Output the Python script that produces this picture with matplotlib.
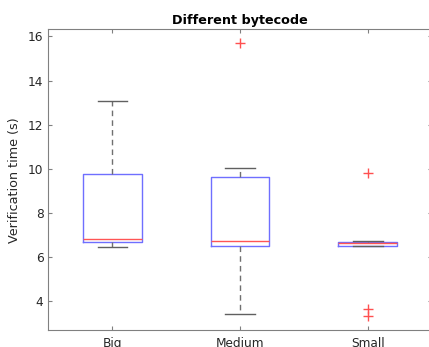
import matplotlib
matplotlib.use("Agg")
import matplotlib.pyplot as plt

# values
labels = ["Big", "Medium", "Small"]
whisker_low = [6.48, 3.44, 6.49]
q1 = [6.67, 6.50, 6.49]
median = [6.84, 6.75, 6.63]
q3 = [9.77, 9.61, 6.69]
whisker_high = [13.06, 10.05, 6.73]
outliers = [[], [15.70], [9.81, 3.64, 3.32]]

stats = []
for i, lab in enumerate(labels):
    stats.append(dict(label=lab, whislo=whisker_low[i], q1=q1[i], med=median[i],
                      q3=q3[i], whishi=whisker_high[i], fliers=outliers[i]))

plt.rcParams['font.family'] = ['DejaVu Sans']
fig = plt.figure(figsize=(4.29, 3.47), dpi=100)
ax = fig.add_axes([48.3 / 429, 1 - 330.3 / 347, 383.5 / 429, 301 / 347])

ax.bxp(stats, positions=[1, 2, 3], widths=0.46,
       boxprops=dict(color='#6f6fff', linewidth=1.0),
       medianprops=dict(color='#ff5555', linewidth=1.0),
       whiskerprops=dict(color='#707070', linestyle=(0, (4, 3)), linewidth=1.0),
       capprops=dict(color='#606060', linewidth=1.0),
       flierprops=dict(marker='+', markeredgecolor='#ff5050', markersize=7, linestyle='none'))

ax.set_xlim(0.5, 3.5)
ax.set_ylim(2.69, 16.32)
ax.set_yticks([4, 6, 8, 10, 12, 14, 16])
ax.set_xticks([1, 2, 3])
ax.set_xticklabels(labels)
ax.tick_params(direction='in', length=3, color='#808080', labelcolor='#262626',
               labelsize=8.7, top=True, right=True, pad=3.5)
ax.tick_params(axis='x', pad=4.5)
for s in ax.spines.values():
    s.set_color('#808080')
ax.set_ylabel("Verification time (s)", fontsize=9.2, color='#262626', labelpad=5)
ax.set_title("Different bytecode", fontsize=9.2, fontweight='bold', pad=3.5)

fig.savefig("out.png", dpi=100)
